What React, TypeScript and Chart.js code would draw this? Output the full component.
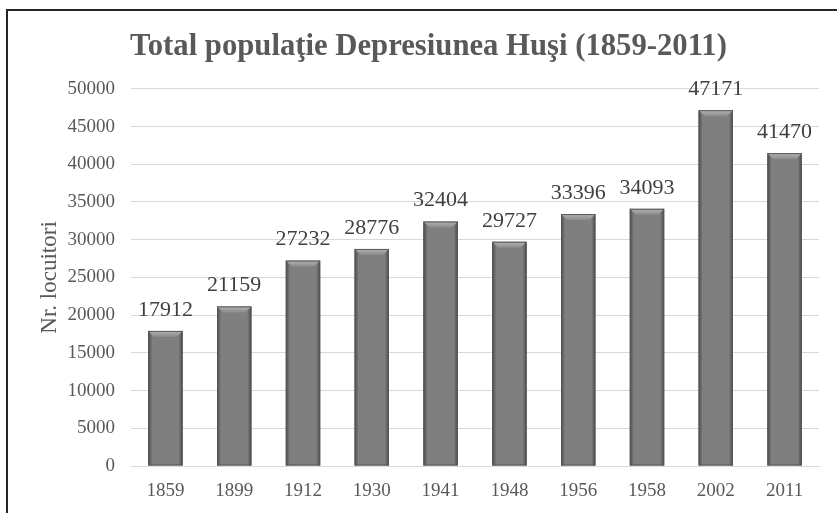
import { useEffect, useRef } from "react";
import { Chart, registerables } from "chart.js";

Chart.register(...registerables);

const categories = ["1859", "1899", "1912", "1930", "1941", "1948", "1956", "1958", "2002", "2011"];
const population = [17912, 21159, 27232, 28776, 32404, 29727, 33396, 34093, 47171, 41470];
const yTicks = [0, 5000, 10000, 15000, 20000, 25000, 30000, 35000, 40000, 45000, 50000];

const FONT = "'Liberation Serif', 'DejaVu Serif', serif";

const bevelPlugin = {
  id: "bevel",
  afterDatasetsDraw(chart: any) {
    const ctx = chart.ctx;
    const meta = chart.getDatasetMeta(0);
    meta.data.forEach((bar: any) => {
      const { x, y, base, width } = bar.getProps(["x", "y", "base", "width"], true);
      const l = x - width / 2;
      const r = x + width / 2;
      const b = 6;
      ctx.save();
      const g = ctx.createLinearGradient(l, 0, r, 0);
      g.addColorStop(0, "rgba(40,40,40,0.6)");
      g.addColorStop(0.12, "rgba(40,40,40,0.0)");
      g.addColorStop(0.88, "rgba(40,40,40,0.0)");
      g.addColorStop(1, "rgba(40,40,40,0.6)");
      ctx.fillStyle = g;
      ctx.fillRect(l, y, width, base - y);
      const tg = ctx.createLinearGradient(0, y, 0, y + b);
      tg.addColorStop(0, "#b5b5b5");
      tg.addColorStop(1, "#8a8a8a");
      ctx.fillStyle = tg;
      ctx.beginPath();
      ctx.moveTo(l, y);
      ctx.lineTo(r, y);
      ctx.lineTo(r - b, y + b);
      ctx.lineTo(l + b, y + b);
      ctx.closePath();
      ctx.fill();
      ctx.strokeStyle = "#555555";
      ctx.lineWidth = 1;
      ctx.strokeRect(l + 0.5, y + 0.5, width - 1, base - y - 1);
      ctx.restore();
    });
  },
};

const labelPlugin = {
  id: "valueLabels",
  afterDatasetsDraw(chart: any) {
    const ctx = chart.ctx;
    const meta = chart.getDatasetMeta(0);
    ctx.save();
    ctx.font = `22px ${FONT}`;
    ctx.fillStyle = "#404040";
    ctx.textAlign = "center";
    ctx.textBaseline = "middle";
    meta.data.forEach((bar: any, i: number) => {
      ctx.fillText(String(population[i]), bar.x, bar.y - 21);
    });
    ctx.restore();
  },
};

export default function App() {
  const ref = useRef<HTMLCanvasElement>(null);
  useEffect(() => {
    if (!ref.current) return;
    const chart = new Chart(ref.current, {
      type: "bar",
      data: {
        labels: categories,
        datasets: [
          {
            data: population,
            backgroundColor: "#7f7f7f",
            borderWidth: 0,
            barPercentage: 0.5,
            categoryPercentage: 1,
          },
        ],
      },
      options: {
        responsive: false,
        animation: false,
        layout: { padding: { top: 0, left: 29, right: 30, bottom: 0 } },
        plugins: {
          legend: { display: false },
          tooltip: { enabled: false },
          title: {
            display: true,
            text: "Total populaţie Depresiunea Huşi (1859-2011)",
            color: "#595959",
            font: { family: FONT, size: 30.7, weight: "bold" },
            padding: { top: 18, bottom: 23 },
          },
        },
        scales: {
          x: {
            grid: { display: false, drawTicks: false },
            border: { display: true, color: "#d9d9d9" },
            ticks: { color: "#595959", font: { family: FONT, size: 19 }, padding: 14 },
            afterFit(scale: any) {
              scale.height = 47;
            },
          },
          y: {
            min: 0,
            max: 50000,
            grid: { color: "#d9d9d9", drawTicks: false },
            border: { display: false },
            afterBuildTicks(scale: any) {
              scale.ticks = yTicks.map((v) => ({ value: v }));
            },
            ticks: {
              color: "#595959",
              font: { family: FONT, size: 19 },
              padding: 16,
              callback: (v: any) => String(v),
            },
            title: {
              display: true,
              text: "Nr. locuitori",
              color: "#595959",
              font: { family: FONT, size: 23 },
              padding: { top: -2, bottom: 0 },
            },
            afterFit(scale: any) {
              scale.width = 93;
            },
          },
        },
      },
      plugins: [bevelPlugin, labelPlugin],
    });
    return () => chart.destroy();
  }, []);

  return (
    <div
      style={{
        position: "fixed",
        left: 6,
        top: 9,
        width: 860,
        height: 540,
        border: "2px solid #262626",
        overflow: "hidden",
        background: "#fff",
      }}
    >
      <canvas ref={ref} width={840} height={502} style={{ display: "block", marginLeft: 1 }} />
    </div>
  );
}
